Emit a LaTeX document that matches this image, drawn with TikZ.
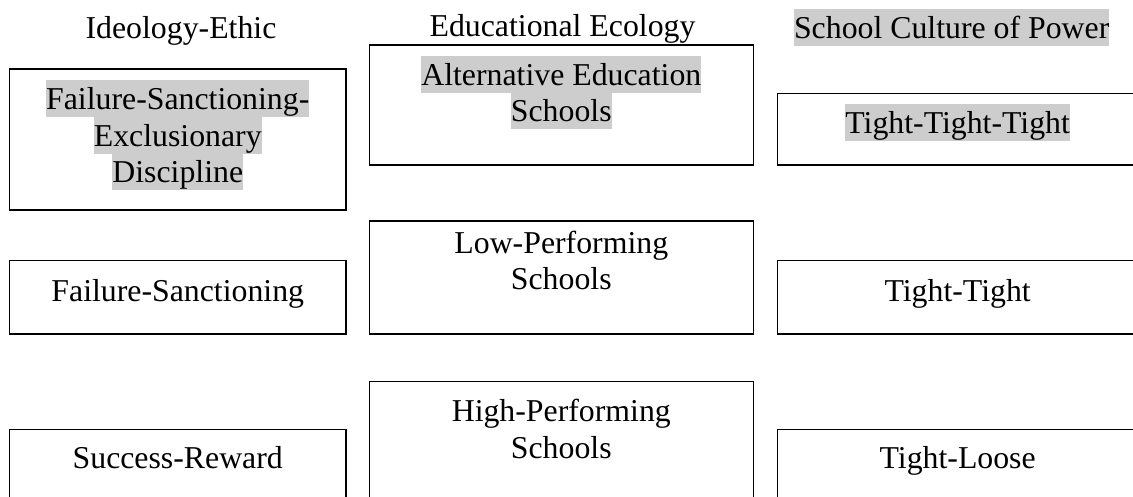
\documentclass[tikz,border=0pt]{standalone}
\usepackage{fontspec}
\setmainfont{Liberation Serif}
\usepackage{xcolor}
\definecolor{hlgray}{RGB}{205,205,205}
% one text line: fixed height and depth so that highlights of stacked lines meet
\newcommand\lnstrut{\rule[-7.4pt]{0pt}{36.6pt}}
\newcommand\hlline[1]{{\setlength\fboxsep{0pt}\colorbox{hlgray}{\lnstrut #1}}}
\newcommand\plline[1]{\lnstrut #1}
\tikzset{
  frame/.style={draw=black, line width=1.2pt, inner sep=0pt, fill=none},
  label/.style={anchor=north, inner sep=0pt, align=center,
    font=\fontsize{31.8}{36.6}\selectfont},
}
\begin{document}
\begin{tikzpicture}[x=1pt, y=-1pt]
\useasboundingbox (0,0) rectangle (1133,497);
\clip (0,0) rectangle (1133,497);

% column headings
\node[label] (hIdeo) at (181,8.8) {\plline{Ideology-Ethic}};
\node[label] (hEco) at (562.5,7.3) {\plline{Educational Ecology}};
\node[label] (hPow) at (951.7,9.2) {\hlline{School Culture of Power}};

% top row
\node[frame, minimum width=336.5pt, minimum height=141pt] (bA1) at (177.75,139.5) {};
\node[label] (tA1) at (177.75,80.3) {\hlline{Failure-Sanctioning-}\\\hlline{Exclusionary}\\\hlline{Discipline}};
\node[frame, minimum width=384pt, minimum height=120pt] (bA2) at (561.3,105) {};
\node[label] (tA2) at (561.3,56) {\hlline{Alternative Education}\\\hlline{Schools}};
\node[frame, minimum width=360.7pt, minimum height=71.7pt] (bA3) at (957.65,129.15) {};
\node[label] (tA3) at (957.65,104) {\hlline{Tight-Tight-Tight}};

% middle row
\node[frame, minimum width=336.5pt, minimum height=73.3pt] (bB1) at (177.75,297.35) {};
\node[label] (tB1) at (177.75,272) {\plline{Failure-Sanctioning}};
\node[frame, minimum width=384pt, minimum height=113pt] (bB2) at (561.3,277.5) {};
\node[label] (tB2) at (561.3,224) {\plline{Low-Performing}\\\plline{Schools}};
\node[frame, minimum width=360.7pt, minimum height=73.3pt] (bB3) at (957.65,297.35) {};
\node[label] (tB3) at (957.65,272) {\plline{Tight-Tight}};

% bottom row
\node[frame, minimum width=336.5pt, minimum height=80.7pt] (bC1) at (177.75,469.65) {};
\node[label] (tC1) at (177.75,439.5) {\plline{Success-Reward}};
\node[frame, minimum width=384pt, minimum height=128.3pt] (bC2) at (561.3,445.85) {};
\node[label] (tC2) at (561.3,392.5) {\plline{High-Performing}\\\plline{Schools}};
\node[frame, minimum width=360.7pt, minimum height=80.7pt] (bC3) at (957.65,469.65) {};
\node[label] (tC3) at (957.65,439.5) {\plline{Tight-Loose}};
\end{tikzpicture}
\end{document}
